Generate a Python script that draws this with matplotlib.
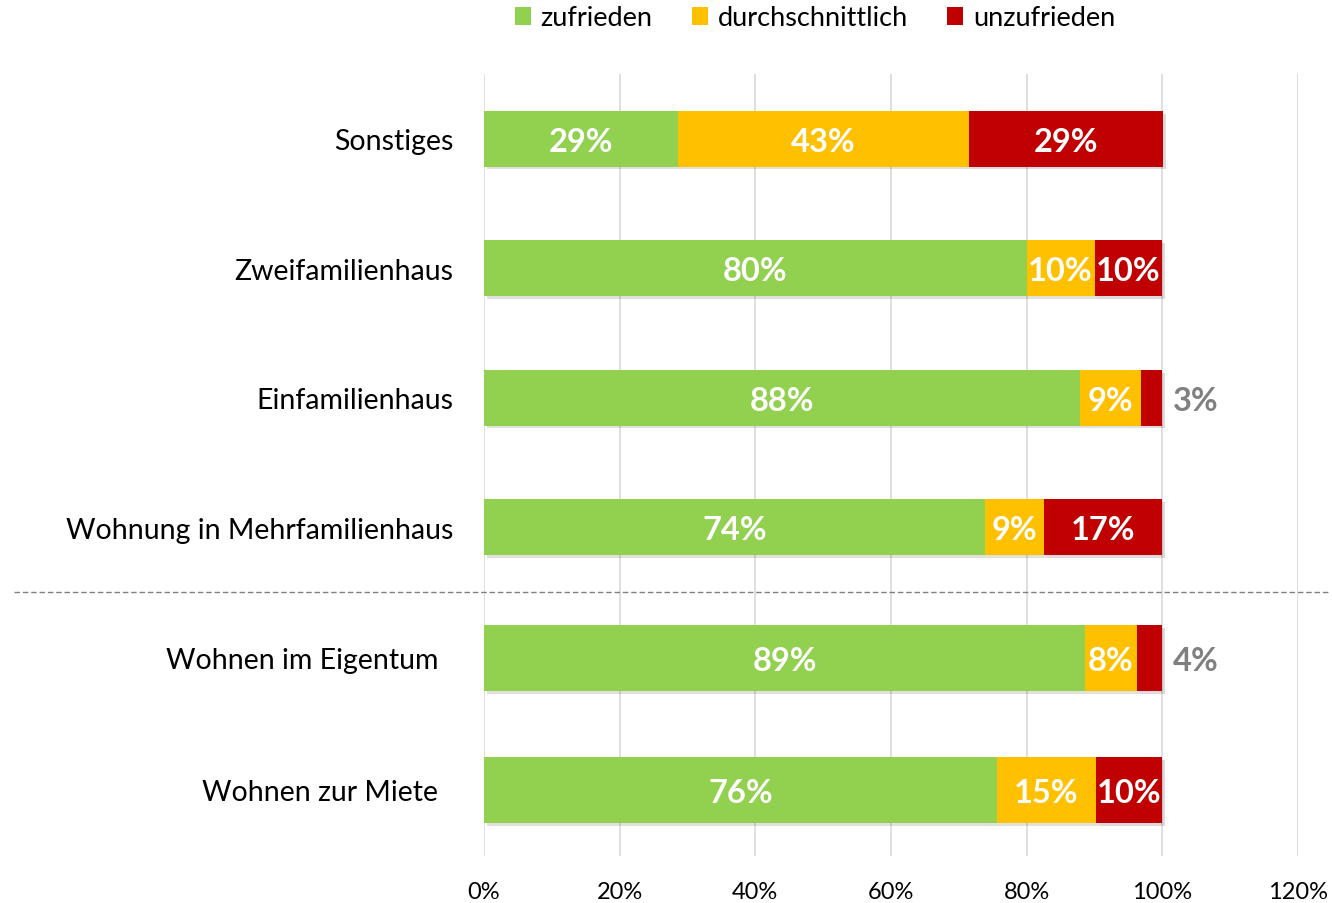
import numpy as np
import matplotlib.pyplot as plt
from matplotlib.lines import Line2D
from matplotlib.patches import Patch
import matplotlib.patheffects as pe

# data
series = ['zufrieden', 'durchschnittlich', 'unzufrieden']
colors = ['#92d050', '#ffc000', '#c00000']

top_cats = ['Sonstiges', 'Zweifamilienhaus', 'Einfamilienhaus', 'Wohnung in Mehrfamilienhaus']
top_zufrieden = [28.6, 80.0, 87.9, 73.9]
top_durchschn = [42.9, 10.0, 8.9, 8.7]
top_unzufrieden = [28.6, 10.0, 3.2, 17.4]

bot_cats = ['Wohnen im Eigentum', 'Wohnen zur Miete']
bot_zufrieden = [88.6, 75.6]
bot_durchschn = [7.6, 14.6]
bot_unzufrieden = [3.8, 9.8]

xticks = [0, 20, 40, 60, 80, 100, 120]

plt.rcParams['font.family'] = ['Lato', 'DejaVu Sans']

W, H = 1332, 904
fig = plt.figure(figsize=(W / 100, H / 100), dpi=100)

def fx(px):
    return px / W

def fy(py):
    return 1 - py / H

ax_top = fig.add_axes([fx(484), fy(593), fx(1298) - fx(484), fy(75) - fy(593)])
ax_bot = fig.add_axes([fx(484), fy(857), fx(1298) - fx(484), fy(593) - fy(857)])

shadow = [pe.SimplePatchShadow(offset=(2, -2), alpha=0.15), pe.Normal()]


def draw_group(ax, cats, vals, height, pad, show_x):
    y = np.arange(len(cats))
    left = np.zeros(len(cats))
    for i, v in enumerate(vals):
        v = np.array(v)
        bars = ax.barh(y, v, left=left, height=height, color=colors[i], zorder=3)
        for b in bars:
            b.set_path_effects(shadow)
        for j in range(len(cats)):
            txt = f'{v[j]:.0f}%'
            if v[j] >= 5:
                ax.text(left[j] + v[j] / 2, y[j] + 0.02, txt, ha='center', va='center',
                        color='white', fontsize=23.5, fontweight='bold', zorder=4)
            else:
                ax.text(101.5, y[j] + 0.02, txt, ha='left', va='center',
                        color='#808080', fontsize=23.5, fontweight='bold', zorder=4)
        left = left + v
    ax.set_xlim(0, 120)
    ax.set_ylim(len(cats) - 0.5, -0.5)
    ax.set_yticks(y)
    ax.set_yticklabels(cats, fontsize=20.5)
    ax.set_xticks(xticks)
    ax.set_xticklabels([f'{t}%' for t in xticks], fontsize=17)
    ax.tick_params(axis='y', length=0, pad=pad)
    ax.tick_params(axis='x', length=0, pad=18)
    if not show_x:
        ax.tick_params(axis='x', labelbottom=False)
    ax.grid(axis='x', color='#d9d9d9', linewidth=1.2, zorder=0)
    ax.set_axisbelow(True)
    for s in ax.spines.values():
        s.set_visible(False)


draw_group(ax_top, top_cats, [top_zufrieden, top_durchschn, top_unzufrieden], 0.43, 22, False)
draw_group(ax_bot, bot_cats, [bot_zufrieden, bot_durchschn, bot_unzufrieden], 0.5, 33, True)

# separator line
fig.add_artist(Line2D([fx(14), fx(1330)], [fy(593), fy(593)], transform=fig.transFigure,
                      color='#808080', linestyle=(0, (4, 2)), linewidth=1))

handles = [Patch(facecolor=c) for c in colors]
fig.legend(handles, series, loc='center', bbox_to_anchor=(fx(815), fy(19)), ncol=3,
           frameon=False, fontsize=19.5, handlelength=0.6, handleheight=0.6,
           handletextpad=0.35, columnspacing=1.45)

fig.savefig('out.png', dpi=100)
